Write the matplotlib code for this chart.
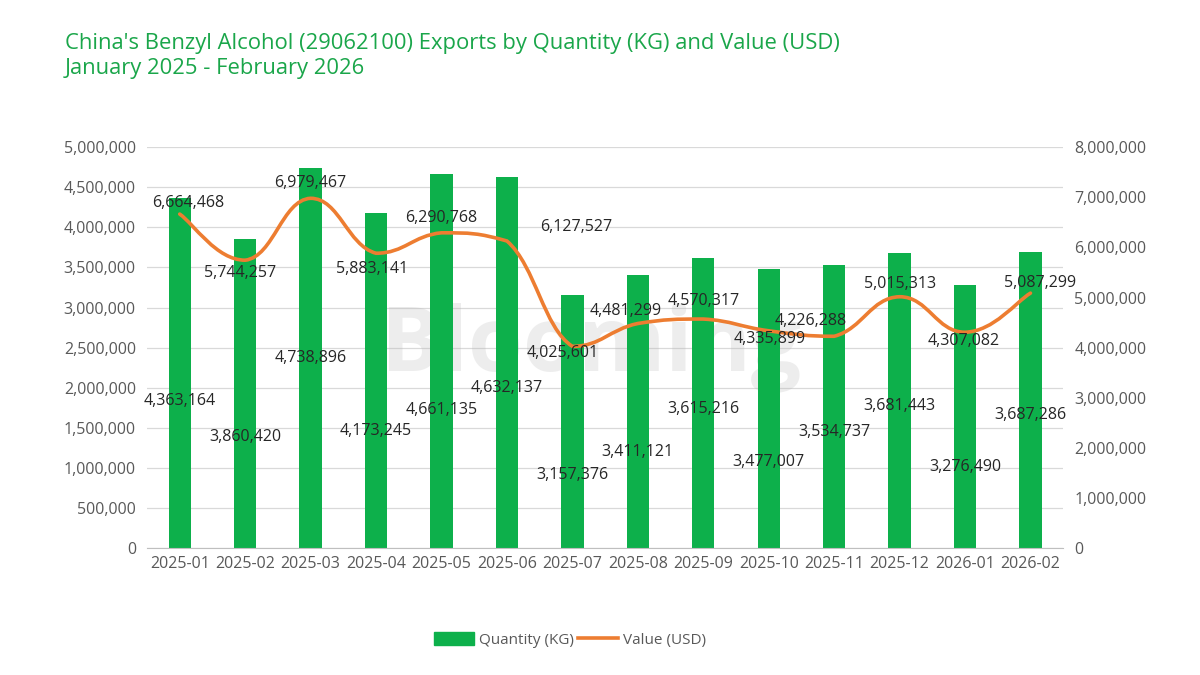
import numpy as np
import matplotlib.pyplot as plt
from matplotlib.path import Path
from matplotlib.patches import PathPatch
from matplotlib.lines import Line2D
from matplotlib.ticker import FuncFormatter

plt.rcParams['font.family'] = ['Open Sans', 'DejaVu Sans']

months = ['2025-01', '2025-02', '2025-03', '2025-04', '2025-05', '2025-06', '2025-07',
          '2025-08', '2025-09', '2025-10', '2025-11', '2025-12', '2026-01', '2026-02']
quantity_kg = [4363164, 3860420, 4738896, 4173245, 4661135, 4632137, 3157376,
               3411121, 3615216, 3477007, 3534737, 3681443, 3276490, 3687286]
value_usd = [6664468, 5744257, 6979467, 5883141, 6290768, 6127527, 4025601,
             4481299, 4570317, 4335899, 4226288, 5015313, 4307082, 5087299]

green = '#0DB04B'
orange = '#ED7D31'
grey = '#595959'

fig = plt.figure(figsize=(12, 6.75), dpi=100)
ax = fig.add_axes([0.1225, 0.188, 0.7635, 0.594])
ax2 = ax.twinx()

x = np.arange(len(months))
ax.bar(x, quantity_kg, width=0.34, color=green, zorder=2)
ax.set_ylim(0, 5000000)
ax.set_yticks(np.arange(0, 5000001, 500000))
ax.set_xlim(-0.5, len(months) - 0.5)
ax.set_xticks(x)
ax.set_xticklabels(months)
ax.grid(axis='y', color='#D9D9D9', linewidth=0.9, zorder=0)
ax.set_axisbelow(True)

fmt = FuncFormatter(lambda v, p: f'{int(v):,}')
ax.yaxis.set_major_formatter(fmt)
ax2.yaxis.set_major_formatter(fmt)
ax2.set_ylim(0, 8000000)
ax2.set_yticks(np.arange(0, 8000001, 1000000))

for a in (ax, ax2):
    for s in a.spines.values():
        s.set_visible(False)
    a.tick_params(length=0, labelsize=11.5, labelcolor=grey)
ax.spines['bottom'].set_visible(True)
ax.spines['bottom'].set_color('#BFBFBF')
ax.tick_params(axis='x', pad=6)
ax.tick_params(axis='y', pad=8)
ax2.tick_params(axis='y', pad=8)

# smooth value line: bezier through the points, control points kept inside each segment's range
pts = np.column_stack([x, value_usd]).astype(float)
verts = [tuple(pts[0])]
codes = [Path.MOVETO]
k = 0.22
for i in range(len(pts) - 1):
    p0 = pts[i - 1] if i > 0 else pts[i]
    p1, p2 = pts[i], pts[i + 1]
    p3 = pts[i + 2] if i + 2 < len(pts) else pts[i + 1]
    c1 = p1 + (p2 - p0) * k
    c2 = p2 - (p3 - p1) * k
    lo, hi = min(p1[1], p2[1]), max(p1[1], p2[1])
    c1[1] = np.clip(c1[1], lo, hi)
    c2[1] = np.clip(c2[1], lo, hi)
    verts += [tuple(c1), tuple(c2), tuple(p2)]
    codes += [Path.CURVE4] * 3
ax2.add_patch(PathPatch(Path(verts, codes), facecolor='none', edgecolor=orange,
                        linewidth=2.6, capstyle='round', zorder=3))

# watermark
ax.text(0.485, 0.5, 'Blooming', transform=ax.transAxes, ha='center', va='center',
        fontsize=64, fontweight='bold', color='#B0B0B0', alpha=0.22, zorder=1)

lab_color = '#262626'
# where each bar label sits, as share of bar height (staggered like the source)
bar_lab_frac = [0.42, 0.36, 0.50, 0.35, 0.37, 0.43, 0.29, 0.35, 0.48, 0.31, 0.41, 0.48, 0.31, 0.45]
for xi, q, f in zip(x, quantity_kg, bar_lab_frac):
    ax.text(xi, q * f, f'{q:,}', ha='center', va='center', fontsize=11.5,
            color=lab_color, zorder=4)

# label offsets for the line, in points (dx, dy of label centre)
line_lab_off = [(6, 8), (-4, -9), (0, 11), (-3, -11), (0, 11), (50, 10), (-7, -5),
                (-9, 9), (0, 13), (1, -6), (-17, 11), (0, 9), (-1, -6), (7, 7)]
for xi, v, (dx, dy) in zip(x, value_usd, line_lab_off):
    ax2.annotate(f'{v:,}', (xi, v), xytext=(dx, dy), textcoords='offset points',
                 ha='center', va='center', fontsize=11.5, color=lab_color, zorder=4)

fig.text(0.054, 0.935, "China's Benzyl Alcohol (29062100) Exports by Quantity (KG) and Value (USD)",
         fontsize=15.8, color='#1AA64A', va='center')
fig.text(0.054, 0.899, 'January 2025 - February 2026', fontsize=15.8, color='#1AA64A', va='center')

handles = [plt.Rectangle((0, 0), 1, 1, color=green),
           Line2D([0], [0], color=orange, linewidth=2.6)]
fig.legend(handles, ['Quantity (KG)', 'Value (USD)'], loc='center', bbox_to_anchor=(0.475, 0.052),
           ncol=2, frameon=False, fontsize=11, handlelength=2.6, handleheight=0.9,
           columnspacing=0.3, handletextpad=0.3, labelcolor=grey)

fig.savefig('out.png', dpi=100)
